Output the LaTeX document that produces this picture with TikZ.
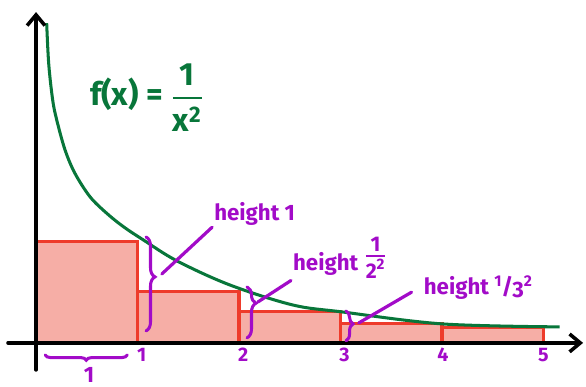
\documentclass[tikz,border=0pt]{standalone}
\usepackage{amsmath}
\usepackage{fontspec}
\setmainfont{Fira Sans}
\usetikzlibrary{arrows.meta,decorations.pathreplacing,calc}
\definecolor{fnGreen}{HTML}{08763A}
\definecolor{barRed}{HTML}{EE3B2B}
\definecolor{barFill}{HTML}{F6AEA6}
\definecolor{notePurple}{HTML}{A20BC8}

\begin{document}
\begin{tikzpicture}[x=2cm,y=2cm,
  axis/.style={draw=black, line width=2pt, line cap=round,
               -{Straight Barb[length=6pt,width=10pt,line width=2pt]}},
  bar/.style={draw=barRed, fill=barFill, line width=1.7pt},
  curve/.style={draw=fnGreen, line width=1.7pt},
  brc/.style={draw=notePurple, line width=1.7pt, line cap=round,
              decorate, decoration={brace, amplitude=5pt}},
  lead/.style={draw=notePurple, line width=1.8pt, line cap=round},
  lbl/.style={text=notePurple, inner sep=1pt, font=\fontsize{12.5}{14}\selectfont\bfseries},
  tick/.style={text=notePurple, inner sep=0pt, font=\fontsize{11}{13}\selectfont\bfseries}]

  \useasboundingbox (-0.355,-0.433) rectangle (5.419,3.379);

  % rectangles under the curve
  \foreach \a/\h in {0/1, 1/0.505, 2/0.31, 3/0.19, 4/0.155}
    \draw[bar] (\a,0) rectangle ++(1,\h);

  % the function
  \draw[curve] plot[smooth, tension=0.55] coordinates {(0.105,3.15) (0.125,2.75)
    (0.164,2.394) (0.204,2.197) (0.286,1.901) (0.384,1.67) (0.532,1.44)
    (0.696,1.278) (0.86,1.146) (1.057,1.015) (1.389,0.808) (1.91,0.571)
    (2.53,0.374) (3.02,0.305) (4.01,0.187) (5.16,0.158)};
  \node[text=fnGreen, anchor=west, font=\fontsize{18}{21}\selectfont\bfseries] (fx) at (0.47,2.42)
       {f(x) = $\genfrac{}{}{1.4pt}{0}{\text{1}}{\text{x}^{\text{2}}}$};

  % axes
  \coordinate (xs) at (-0.276,0);
  \coordinate (xe) at (5.39,0);
  \coordinate (ys) at (0,-0.266);
  \coordinate (ye) at (0,3.26);
  \draw[axis] (xs) -- (xe);
  \draw[axis] (ys) -- (ye);

  \foreach \i/\x in {1/1.04, 2/2.04, 3/3.04, 4/4.01, 5/5.0}
    \node[tick] (t\i) at (\x,-0.12) {\i};

  % width of one step
  \draw[brc, decoration={aspect=0.5, amplitude=3pt}] (0.9,-0.118) -- (0.09,-0.118);
  \node[lbl] (w1) at (0.522,-0.315) {1};

  % heights
  \draw[brc, decoration={aspect=0.425}] (1.084,1.044) -- (1.084,0.118);
  \draw[brc, decoration={aspect=0.32}] (2.079,0.552) -- (2.079,0.05);
  \draw[brc, decoration={aspect=0.43, amplitude=4pt}] (3.054,0.315) -- (3.054,0.02);

  \coordinate (b1) at (1.24,0.68);
  \coordinate (b2) at (2.187,0.404);
  \coordinate (b3) at (3.18,0.197);

  \node[lbl, anchor=south west] (h1) at (1.735,1.14) {height 1};
  \node[lbl, anchor=south west] (h2) at (2.512,0.615)
       {height {\fontsize{17}{19}\selectfont\raisebox{0.4ex}{$\genfrac{}{}{1pt}{1}{\text{1}}{\text{2}^{\text{2}}}$}}};
  \node[lbl, anchor=south west] (h3) at (3.80,0.41)
       {height \textsuperscript{1}\kern-0.5pt/\kern-0.5pt\raisebox{-0.3ex}{3}\textsuperscript{2}};
  \coordinate (e3) at ($(h3.south west)+(-0.1,0.09)$);

  \draw[lead] (b1) -- (h1.south west);
  \draw[lead] (b2) -- (h2.south west);
  \draw[lead] (b3) -- (e3);
\end{tikzpicture}
\end{document}
